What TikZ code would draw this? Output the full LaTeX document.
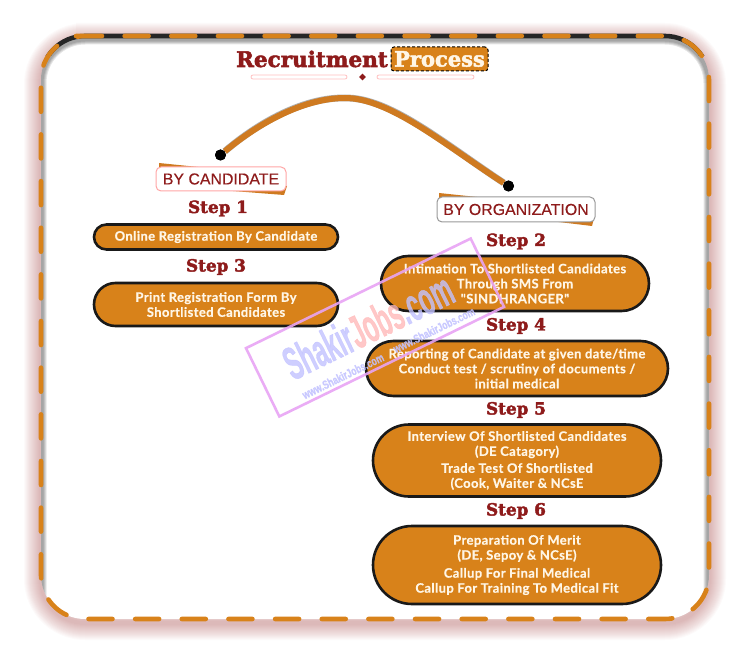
\documentclass[tikz,border=0pt]{standalone}
\usepackage{fontspec}
\usetikzlibrary{shapes.misc,shapes.geometric}
\newfontfamily\stepFont{DejaVu Serif}[BoldFeatures={FakeBold=2.4}]
\newfontfamily\boxFont{Lato}[LetterSpace=3,BoldFeatures={FakeBold=.5}]
\newfontfamily\tagFont{Liberation Sans}[FakeBold=.3]
\newfontfamily\markFont{Liberation Sans}[BoldFeatures={FakeBold=1}]
\definecolor{rBrown}{HTML}{8E1B1B}
\definecolor{rOrange}{HTML}{D8821A}
\definecolor{rSwash}{HTML}{CF7A20}
\definecolor{rCream}{HTML}{FFF6E6}
\definecolor{rMark}{HTML}{E8A4F4}
\newcommand{\rFrame}{(76,36) -- (709,36) -- (709,619) -- (41,619) -- (41,36) -- (76,36)}
\tikzset{
  pill/.style={shape=rounded rectangle, draw=black!90, line width=2.6pt, fill=rOrange, inner sep=0pt, outer sep=0pt,
    text=rCream, align=center, font=\boxFont\bfseries\fontsize{13}{15}\selectfont},
  steplabel/.style={text=rBrown, inner sep=0pt, font=\stepFont\bfseries\fontsize{16.8}{18}\selectfont},
  tagbox/.style={draw=#1, line width=1pt, fill=white, rounded corners=5pt, inner sep=0pt, outer sep=0pt,
    text=rBrown, font=\tagFont\fontsize{15.9}{18}\selectfont},
  dotend/.style={shape=circle, fill=black, inner sep=0pt, minimum size=11pt},
  underbar/.style={draw=red!25, line width=.8pt, fill=white, rounded corners=2pt}
}
\begin{document}
\begin{tikzpicture}[x=1pt,y=-1pt]
\useasboundingbox (0,0) rectangle (750,655);
% glow round the frame
\foreach \w in {34,32,...,4} {
  \draw[draw=red!50!black, opacity=.02, line width=\w pt, rounded corners=44pt, yshift=-4pt] \rFrame;
}
\fill[white, rounded corners=44pt] \rFrame;
% inner shade
\begin{scope}
\clip[rounded corners=44pt] \rFrame;
\foreach \w in {11,9,7,5} {
  \draw[draw=black, opacity=.1, line width=\w pt, rounded corners=44pt, yshift=-3pt] (76,36) -- (709,36) -- (709,640) -- (41,640) -- (41,36) -- (76,36);
}
\end{scope}
\begin{scope}
\clip (0,0) rectangle (750,56);
\draw[black!85, line width=4.6pt, rounded corners=44pt] (41,100) -- (41,36) -- (709,36) -- (709,100);
\end{scope}
\draw[rOrange, line width=4.6pt, line cap=round, dash pattern=on 24pt off 22.65pt, dash phase=-2pt, rounded corners=44pt] \rFrame;
% title
\node[anchor=base east, inner sep=0pt, text=rBrown, font=\stepFont\bfseries\fontsize{21.5}{22}\selectfont] (titleA) at (388,67) {Recruitment};
\node[anchor=center, draw=black, densely dashed, line width=1pt, fill=rOrange, rounded corners=3pt, inner sep=0pt, minimum width=97pt, minimum height=24pt, text=rCream, font=\stepFont\bfseries\fontsize{21}{22}\selectfont] (titleB) at (439.5,59) {Process};
\node[underbar, minimum width=96pt, minimum height=4pt, inner sep=0pt] (barA) at (299,77) {};
\node[underbar, minimum width=97pt, minimum height=4pt, inner sep=0pt] (barB) at (425.5,77) {};
\node[shape=diamond, fill=rBrown, inner sep=0pt, minimum size=7pt] (barC) at (362.5,77) {};
% arc
\node[dotend] (dotA) at (220.5,155) {};
\node[dotend] (dotB) at (508.5,186) {};
\coordinate (arcTop) at (345,98);
\draw[black!45, line width=6.8pt, opacity=.7, yshift=.8pt] (dotA) .. controls (260,122) and (305,98) .. (arcTop) .. controls (390,98) and (445,145) .. (dotB);
\draw[rSwash, line width=6pt] (dotA) .. controls (260,122) and (305,98) .. (arcTop) .. controls (390,98) and (445,145) .. (dotB);
\node[dotend] at (dotA) {};
\node[dotend] at (dotB) {};
% tags
\fill[rSwash] (159,163) -- (208,168) -- (159,170) -- cycle;
\fill[rSwash] (233,191) -- (284,195) -- (287,186) -- (270,188) -- cycle;
\node[tagbox=red!35, minimum width=130pt, minimum height=24pt] (tagA) at (221,179) {BY CANDIDATE};
\fill[rSwash] (439,193) -- (496,199) -- (439,200) -- cycle;
\fill[rSwash] (542,220) -- (592,226) -- (595,214) -- (580,218) -- cycle;
\node[tagbox=black!40, minimum width=158pt, minimum height=25pt] (tagB) at (516,209.5) {BY ORGANIZATION};
% steps
\node[steplabel] (stepA) at (218,208.5) {Step 1};
\node[steplabel] (stepB) at (216,267) {Step 3};
\node[steplabel] (stepC) at (516,241.5) {Step 2};
\node[steplabel] (stepD) at (516,326) {Step 4};
\node[steplabel] (stepE) at (516,410) {Step 5};
\node[steplabel] (stepF) at (516,511) {Step 6};
% boxes
\node[pill, minimum width=244pt, minimum height=25pt] (boxA) at (216,237) {Online Registration By Candidate};
\node[pill, minimum width=244pt, minimum height=43pt] (boxB) at (216,304.5) {Print Registration Form By\\Shortlisted Candidates};
\node[pill, minimum width=268pt, minimum height=55pt] (boxC) at (515,283.5) {Intimation To Shortlisted Candidates\\Through SMS From\\"SINDHRANGER"};
\node[pill, minimum width=302pt, minimum height=55pt] (boxD) at (517,368.5) {Reporting of Candidate at given date/time\\Conduct test / scrutiny of documents /\\initial medical};
\node[pill, minimum width=288pt, minimum height=72pt] (boxE) at (517,460.5) {Interview Of Shortlisted Candidates\\(DE Catagory)\\[2pt]Trade Test Of Shortlisted\\(Cook, Waiter \& NCsE};
\node[pill, minimum width=288pt, minimum height=78pt] (boxF) at (517,565) {Preparation Of Merit\\(DE, Sepoy \& NCsE)\\[3pt]Callup For Final Medical\\Callup For Training To Medical Fit};
% watermark
\node[draw=rMark, line width=2.6pt, rotate=26, minimum width=250pt, minimum height=76pt, inner sep=0pt, opacity=.9] (markBox) at (375,327.5) {};
\node[rotate=26, inner sep=0pt, xscale=.74, yscale=1.45, opacity=.8, font=\markFont\bfseries\fontsize{32}{34}\selectfont] (markText) at (368,326)
  {\textcolor{blue!24}{Shakir}\textcolor{red!27}{Jobs}\textcolor{blue!24}{.com}};
\node[rotate=26, inner sep=0pt, xscale=.72, opacity=.85, text=blue!24, font=\markFont\bfseries\fontsize{12}{14}\selectfont] (markA) at (343,376) {www.ShakirJobs.com};
\node[rotate=26, inner sep=0pt, xscale=.72, opacity=.85, text=blue!24, font=\markFont\bfseries\fontsize{12}{14}\selectfont] (markB) at (434,330) {www.ShakirJobs.com};
\end{tikzpicture}
\end{document}
